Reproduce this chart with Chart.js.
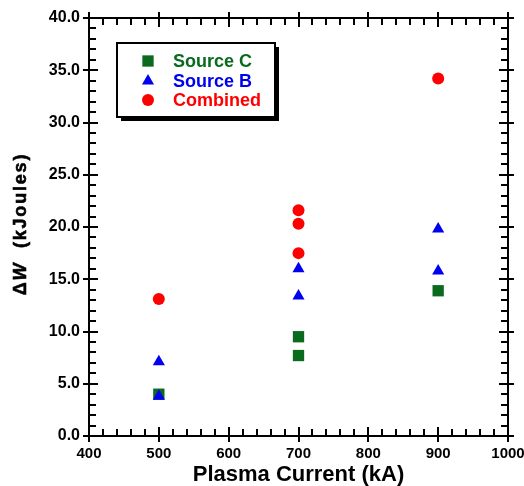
<!DOCTYPE html>
<html>
<head>
<meta charset="utf-8">
<script src="https://cdn.jsdelivr.net/npm/chart.js@4.4.1/dist/chart.umd.min.js"></script>
<style>
  html, body { margin: 0; padding: 0; background: #fff; }
  #wrap { width: 524px; height: 486px; }
</style>
</head>
<body>
<div id="wrap"><canvas id="myChart"></canvas></div>
<script>
// values
const seriesNames = ["Source C", "Source B", "Combined"];
const currentC = [500, 700, 700, 900];
const energyC = [4.0, 9.5, 7.7, 13.9];
const currentB = [500, 500, 700, 700, 900, 900];
const energyB = [7.1, 3.8, 16.0, 13.4, 19.8, 15.8];
const currentComb = [500, 700, 700, 700, 900];
const energyComb = [13.1, 21.6, 20.3, 17.5, 34.2];

const xTicks = [400, 500, 600, 700, 800, 900, 1000];
const yTicks = [0, 5, 10, 15, 20, 25, 30, 35, 40];

const FONT = "'Liberation Sans', Arial, Helvetica, sans-serif";
const GREEN = "#0a6b1e";
const BLUE = "#0000f0";
const RED = "#ff0000";

function pts(xs, ys) {
  return xs.map((x, i) => ({ x: x, y: ys[i] }));
}

// box frame with ticks on all four sides
const framePlugin = {
  id: "frame",
  afterDraw(chart) {
    const { ctx, chartArea: a, scales } = chart;
    const x = scales.x, y = scales.y;
    ctx.save();
    ctx.strokeStyle = "#000";
    ctx.lineWidth = 2;
    ctx.beginPath();
    ctx.rect(a.left, a.top, a.right - a.left, a.bottom - a.top);
    // x: minor every 20, major every 100
    for (let i = 0; i <= 30; i++) {
      const v = xTicks[0] + i * 20;
      const px = Math.round(x.getPixelForValue(v));
      const major = i % 5 === 0;
      ctx.moveTo(px, a.bottom + (major ? 6 : 0));
      ctx.lineTo(px, a.bottom - (major ? 9 : 7));
      ctx.moveTo(px, a.top - (major ? 6 : 0));
      ctx.lineTo(px, a.top + (major ? 9 : 7));
    }
    // y: minor every 1, major every 5
    for (let i = 0; i <= 40; i++) {
      const py = Math.round(y.getPixelForValue(i));
      const major = i % 5 === 0;
      ctx.moveTo(a.left - (major ? 6 : 0), py);
      ctx.lineTo(a.left + (major ? 9 : 7), py);
      ctx.moveTo(a.right + (major ? 6 : 0), py);
      ctx.lineTo(a.right - (major ? 9 : 7), py);
    }
    ctx.stroke();

    // y title: "ΔW  (kJoules)" with italic W
    const parts = [
      { t: "\u0394", f: "bold 18px " + FONT },
      { t: "W", f: "italic bold 18px " + FONT },
      { t: "  (kJoules)", f: "bold 18px " + FONT }
    ];
    const sp = 1.8;
    let total = 0;
    parts.forEach(p => {
      ctx.font = p.f;
      for (const ch of p.t) total += ctx.measureText(ch).width + sp;
    });
    ctx.translate(21, 224);
    ctx.rotate(-Math.PI / 2);
    ctx.fillStyle = "#000";
    ctx.strokeStyle = "#000";
    ctx.lineWidth = 0.6;
    ctx.textBaseline = "middle";
    ctx.textAlign = "left";
    let cx = -total / 2;
    parts.forEach(p => {
      ctx.font = p.f;
      for (const ch of p.t) {
        ctx.fillText(ch, cx, 0);
        ctx.strokeText(ch, cx, 0);
        cx += ctx.measureText(ch).width + sp;
      }
    });
    ctx.restore();
  }
};

// legend box drawn inside the plot, upper left
const legendPlugin = {
  id: "boxLegend",
  afterDraw(chart) {
    const ctx = chart.ctx;
    const bx = 117, by = 43, bw = 158, bh = 74;
    ctx.save();
    ctx.fillStyle = "#000";
    ctx.fillRect(bx + 4, by + 4, bw, bh);
    ctx.fillStyle = "#fff";
    ctx.fillRect(bx, by, bw, bh);
    ctx.strokeStyle = "#000";
    ctx.lineWidth = 2;
    ctx.strokeRect(bx, by, bw, bh);
    const rows = [61, 81, 100];
    chart.data.datasets.forEach((ds, i) => {
      ctx.fillStyle = ds.backgroundColor;
      ctx.strokeStyle = ds.backgroundColor;
      Chart.helpers.drawPoint(ctx, {
        pointStyle: ds.pointStyle, radius: ds.pointRadius, rotation: 0, borderWidth: 0
      }, 148, rows[i]);
      ctx.font = "bold 18px " + FONT;
      ctx.textBaseline = "middle";
      ctx.fillText(ds.label, 173, rows[i] + 1);
    });
    ctx.restore();
  }
};

new Chart(document.getElementById("myChart"), {
  type: "scatter",
  data: {
    datasets: [
      {
        label: seriesNames[0],
        data: pts(currentC, energyC),
        pointStyle: "rect",
        pointRadius: 8,
        backgroundColor: GREEN,
        borderWidth: 0,
        order: 2
      },
      {
        label: seriesNames[1],
        data: pts(currentB, energyB),
        pointStyle: "triangle",
        pointRadius: 7,
        backgroundColor: BLUE,
        borderWidth: 0,
        order: 1
      },
      {
        label: seriesNames[2],
        data: pts(currentComb, energyComb),
        pointStyle: "circle",
        pointRadius: 6,
        backgroundColor: RED,
        borderWidth: 0,
        order: 3
      }
    ]
  },
  options: {
    responsive: true,
    maintainAspectRatio: false,
    animation: false,
    layout: { padding: { top: 18, right: 16, left: 0, bottom: 0 } },
    plugins: {
      legend: { display: false },
      tooltip: { enabled: false }
    },
    scales: {
      x: {
        type: "linear",
        min: xTicks[0],
        max: xTicks[xTicks.length - 1],
        afterBuildTicks: s => { s.ticks = xTicks.map(v => ({ value: v })); },
        grid: { display: false, drawTicks: false },
        border: { display: false },
        ticks: {
          color: "#000",
          padding: 9,
          maxRotation: 0,
          font: { family: FONT, size: 15, weight: "bold" },
          callback: v => String(v)
        },
        title: {
          display: true,
          text: "Plasma Current (kA)",
          color: "#000",
          padding: { top: 6, bottom: 0 },
          font: { family: FONT, size: 22, weight: "bold", lineHeight: 1.0 }
        },
        afterFit: s => { s.height = 50; s.paddingLeft = 0; s.paddingRight = 0; }
      },
      y: {
        type: "linear",
        min: yTicks[0],
        max: yTicks[yTicks.length - 1],
        afterBuildTicks: s => { s.ticks = yTicks.map(v => ({ value: v })); },
        grid: { display: false, drawTicks: false },
        border: { display: false },
        ticks: {
          color: "#000",
          padding: 9,
          font: { family: FONT, size: 16, weight: "bold" },
          callback: v => Number(v).toFixed(1)
        },
        afterFit: s => { s.width = 89; s.paddingTop = 0; s.paddingBottom = 0; }
      }
    }
  },
  plugins: [framePlugin, legendPlugin]
});
</script>
</body>
</html>
